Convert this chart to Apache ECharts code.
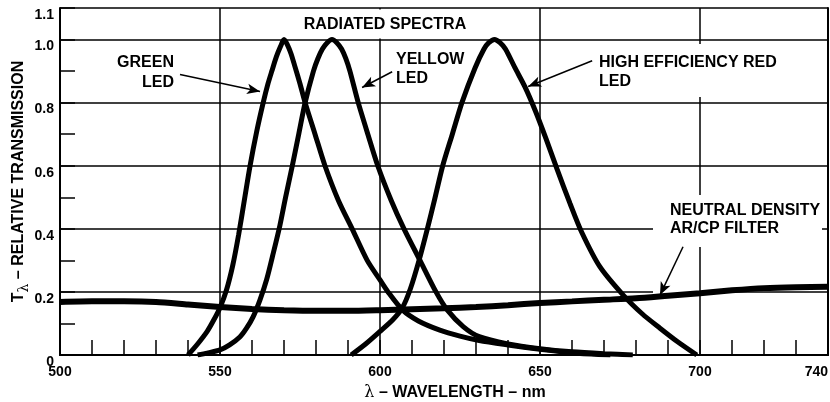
<!DOCTYPE html>
<html>
<head>
<meta charset="utf-8">
<script src="https://cdn.jsdelivr.net/npm/echarts@6/dist/echarts.min.js"></script>
<style>
  html, body { margin: 0; padding: 0; background: #fff; }
  #spectra-chart { width: 830px; height: 402px; }
</style>
</head>
<body>
<div id="spectra-chart"></div>
<script>
// tick labels shown on the axes
const wavelengthLabels = [500, 550, 600, 650, 700, 740]
const transmissionLabels = [0, 0.2, 0.4, 0.6, 0.8, 1.0, 1.1]

// [wavelength nm, relative transmission]
const greenLed = [
  [540, 0], [543, 0.035], [546, 0.075], [548, 0.11], [550, 0.15], [552, 0.205],
  [554, 0.285], [555.8, 0.38], [557.6, 0.49], [559.4, 0.6], [561.5, 0.71], [563.5, 0.8],
  [565, 0.86], [566.2, 0.9], [567.6, 0.945], [569, 0.98], [570, 1.0], [571, 0.985],
  [572.2, 0.955], [573.4, 0.915], [575, 0.86], [576.6, 0.8], [579.7, 0.7], [582.8, 0.6],
  [587, 0.49], [591.3, 0.4], [596, 0.3], [600, 0.238], [602.5, 0.2], [607, 0.143],
  [612, 0.108], [618.7, 0.079], [625, 0.06], [631, 0.046], [640, 0.032], [650, 0.018],
  [658, 0.009], [666, 0.003], [672, 0]
]
const yellowLed = [
  [543, 0], [546, 0.006], [550, 0.016], [553, 0.032], [556.2, 0.057], [558.3, 0.085],
  [560.3, 0.12], [562.5, 0.175], [564.6, 0.24], [566.7, 0.325], [568.7, 0.41], [570.5, 0.5],
  [572.6, 0.6], [574.6, 0.7], [576.6, 0.8], [579.2, 0.9], [580.6, 0.94], [582, 0.97],
  [583.5, 0.99], [585, 1.0], [586.5, 0.99], [588, 0.97], [589.3, 0.94], [590.6, 0.9],
  [593.2, 0.8], [596.2, 0.7], [599.3, 0.6], [603.5, 0.49], [607.5, 0.4], [612.5, 0.3],
  [617.5, 0.2], [621, 0.143], [626, 0.09], [631, 0.058], [640, 0.035], [650, 0.02],
  [660, 0.01], [670, 0.004], [679, 0]
]
const redLed = [
  [591, 0], [595.5, 0.035], [600, 0.075], [604, 0.112], [607, 0.15], [609.5, 0.21],
  [612.2, 0.3], [614.8, 0.4], [617, 0.49], [619.6, 0.6], [622.6, 0.7], [625.6, 0.8],
  [629.7, 0.91], [632.5, 0.97], [634, 0.99], [635.8, 1.0], [637.5, 0.99], [639.2, 0.97],
  [642.2, 0.91], [645.3, 0.85], [648.5, 0.775], [651.9, 0.685], [655.3, 0.59], [659.4, 0.48],
  [663, 0.39], [668.7, 0.28], [676, 0.19], [682, 0.13], [687.5, 0.085], [693, 0.042],
  [699, 0]
]
const neutralFilter = [
  [500, 0.168], [510, 0.17], [520, 0.17], [530, 0.168], [540, 0.16], [550, 0.152],
  [560, 0.146], [570, 0.142], [580, 0.14], [590, 0.14], [600, 0.142], [610, 0.145],
  [620, 0.148], [630, 0.152], [640, 0.158], [650, 0.165], [660, 0.17], [670, 0.175],
  [680, 0.18], [690, 0.188], [700, 0.196], [710, 0.205], [720, 0.212], [730, 0.215],
  [740, 0.216]
]

// callout arrows: [from, to] in data units
const arrows = [
  [[537.5, 0.889], [562.5, 0.835]],
  [[603.8, 0.898], [594.4, 0.848]],
  [[666.3, 0.933], [646.3, 0.851]],
  [[694.7, 0.343], [687.5, 0.19]]
]

const font = "'Liberation Sans', Arial, Helvetica, sans-serif"
const boldText = 'bold 16px ' + font

function curve (name, data, width) {
  return {
    name: name,
    type: 'line',
    data: data,
    smooth: 0.25,
    showSymbol: false,
    silent: true,
    lineStyle: { color: '#000', width: width },
    z: 3
  }
}

const chart = echarts.init(document.getElementById('spectra-chart'))

const series = [
  curve('Green LED', greenLed, 5),
  curve('Yellow LED', yellowLed, 5),
  curve('High Efficiency Red LED', redLed, 5),
  curve('Neutral Density AR/CP Filter', neutralFilter, 6)
]
series[3].markLine = {
  silent: true,
  symbol: ['none', 'arrow'],
  symbolSize: [8, 13],
  label: { show: false },
  lineStyle: { color: '#000', width: 1.5, type: 'solid' },
  data: arrows.map(a => [{ coord: a[0] }, { coord: a[1] }])
}

const option = {
  animation: false,
  backgroundColor: '#fff',
  textStyle: { fontFamily: font },
  grid: { left: 60, right: 2, top: 8, bottom: 47, outerBoundsMode: 'none' },
  xAxis: [
    {
      type: 'value',
      min: 500,
      max: 740,
      interval: 10,
      name: '{l|λ}{b| – WAVELENGTH – nm}',
      nameLocation: 'middle',
      nameGap: 30,
      nameMoveOverlap: false,
      nameTextStyle: {
        padding: [0, 0, 0, 22],
        rich: {
          l: { fontFamily: 'DejaVu Serif', fontSize: 16, color: '#000' },
          b: { fontFamily: font, fontWeight: 'bold', fontSize: 16, color: '#000' }
        }
      },
      axisLine: { lineStyle: { color: '#000', width: 2 } },
      axisTick: { inside: true, length: 15, lineStyle: { color: '#000', width: 1.5 } },
      axisLabel: {
        margin: 10,
        color: '#000',
        fontWeight: 'bold',
        fontSize: 14,
        alignMaxLabel: 'right',
        formatter: v => wavelengthLabels.indexOf(Math.round(v)) >= 0 ? String(Math.round(v)) : ''
      },
      splitLine: { show: false }
    },
    {
      type: 'value',
      position: 'top',
      min: 500,
      max: 740,
      interval: 50,
      axisLine: { lineStyle: { color: '#000', width: 2 } },
      axisTick: { show: false },
      axisLabel: { show: false },
      splitLine: { show: true, lineStyle: { color: '#000', width: 1.5 } }
    }
  ],
  yAxis: [
    {
      type: 'value',
      min: 0,
      max: 1.1,
      interval: 0.1,
      name: '{b|T}{s|λ}{b| – RELATIVE TRANSMISSION}',
      nameLocation: 'middle',
      nameGap: 29,
      nameMoveOverlap: false,
      nameTextStyle: {
        rich: {
          b: { fontFamily: font, fontWeight: 'bold', fontSize: 16, color: '#000', lineHeight: 20, verticalAlign: 'top' },
          s: { fontFamily: 'DejaVu Serif', fontSize: 14, color: '#000', lineHeight: 20, verticalAlign: 'bottom' }
        }
      },
      axisLine: { lineStyle: { color: '#000', width: 2 } },
      axisTick: { inside: true, length: 15, lineStyle: { color: '#000', width: 1.5 } },
      axisLabel: {
        margin: 6,
        color: '#000',
        fontWeight: 'bold',
        fontSize: 14,
        verticalAlign: 'top',
        formatter: v => {
          const r = Math.round(v * 10) / 10
          if (transmissionLabels.indexOf(r) < 0) return ''
          return r === 0 ? '0' : r.toFixed(1)
        }
      },
      splitLine: { show: false }
    },
    {
      type: 'value',
      position: 'right',
      min: 0,
      max: 1.1,
      interval: 0.2,
      axisLine: { show: true, lineStyle: { color: '#000', width: 2 } },
      axisTick: { show: false },
      axisLabel: { show: false },
      splitLine: { show: true, lineStyle: { color: '#000', width: 1.5 } }
    }
  ],
  graphic: [
    // white patches where the grid is broken behind the labels
    { type: 'rect', z: 1, silent: true, shape: { x: 300, y: 9.5, width: 170, height: 29 }, style: { fill: '#fff' } },
    { type: 'rect', z: 1, silent: true, shape: { x: 596, y: 44, width: 190, height: 53 }, style: { fill: '#fff' } },
    { type: 'rect', z: 1, silent: true, shape: { x: 653, y: 195, width: 169, height: 52 }, style: { fill: '#fff' } },
    { type: 'rect', z: 1, silent: true, shape: { x: 653, y: 290, width: 46, height: 4 }, style: { fill: '#fff' } },
    { type: 'text', z: 5, silent: true, x: 385, y: 25, style: { text: 'RADIATED SPECTRA', font: boldText, fill: '#000', align: 'center', verticalAlign: 'middle' } },
    { type: 'text', z: 5, silent: true, x: 174, y: 73, style: { text: 'GREEN\nLED', font: boldText, fill: '#000', align: 'right', verticalAlign: 'middle', lineHeight: 20 } },
    { type: 'text', z: 5, silent: true, x: 396, y: 69, style: { text: 'YELLOW\nLED', font: boldText, fill: '#000', align: 'left', verticalAlign: 'middle', lineHeight: 19 } },
    { type: 'text', z: 5, silent: true, x: 599, y: 72, style: { text: 'HIGH EFFICIENCY RED\nLED', font: boldText, fill: '#000', align: 'left', verticalAlign: 'middle', lineHeight: 19 } },
    { type: 'text', z: 5, silent: true, x: 670, y: 220, style: { text: 'NEUTRAL DENSITY\nAR/CP FILTER', font: boldText, fill: '#000', align: 'left', verticalAlign: 'middle', lineHeight: 18 } }
  ],
  series: series
}

chart.setOption(option)
</script>
</body>
</html>
